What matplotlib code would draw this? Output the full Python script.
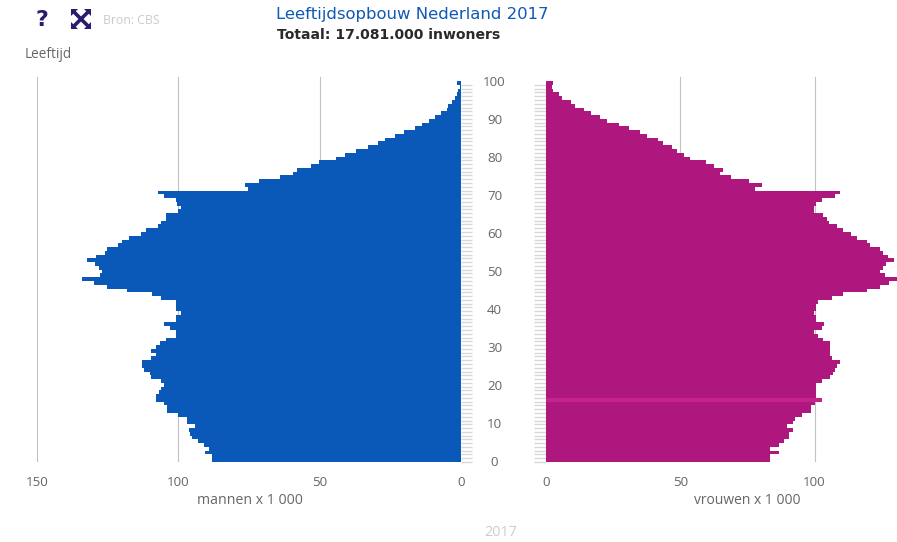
import numpy as np
import matplotlib
matplotlib.use("Agg")
import matplotlib.pyplot as plt
from matplotlib.patches import Polygon

# inwoners per leeftijd x 1 000, index = leeftijd 0..100
ages = np.arange(101)
men = [88.2, 88.2, 90.4, 89, 91, 93, 95, 96, 96.3, 94.2,
       97, 97, 100, 104, 104, 105, 108, 108, 107, 106,
       105, 106, 109.5, 110, 112, 113, 113, 109.5, 108, 109.5,
       108, 106.5, 104.4, 101, 101, 103, 105, 101, 101, 99.2,
       101, 101, 101, 106.1, 109.3, 118.3, 125.4, 129.8, 134, 127.7,
       127.1, 128, 129.5, 132.2, 129.1, 125.9, 125.4, 121.2, 120, 117.3,
       113.3, 111.4, 107.3, 106.1, 104.4, 104.4, 100, 99.2, 100.6, 100.9,
       105, 107.3, 75.2, 76.4, 71.3, 64, 59.3, 58.1, 53.2, 50.1,
       44.2, 41, 37.1, 32.9, 29.2, 26.9, 23.3, 20.2, 16.3, 13.9,
       11.2, 9.2, 7.2, 5.1, 4.5, 3.3, 2.1, 1.3, 1.2, 0.2, 1.3]
women = [83.5, 83.5, 86.9, 83.5, 86.7, 88.5, 90.6, 90.6, 92, 89.7,
         91.8, 92.8, 95.5, 98.6, 98.6, 100, 102.6, 100.5, 100.6, 100.6,
         100.6, 102.6, 105.8, 106.7, 107.6, 108.3, 109.3, 106.6, 105.8, 105.6,
         105.6, 105.6, 103.3, 101.4, 99.9, 102.7, 103.5, 100.5, 100.5, 99.9,
         100.5, 100.5, 101.4, 106.6, 110.5, 119.5, 124.3, 127.6, 131, 126.3,
         124.4, 125.6, 126.6, 129.4, 127.4, 125.6, 124.2, 120.7, 119.5, 115.7,
         113.5, 110.5, 108.3, 105.2, 104.6, 103.3, 99.9, 99.9, 100.5, 102.6,
         107.7, 109.3, 77.7, 80.4, 75.6, 68.9, 64.7, 65.9, 62.5, 59.7,
         53.8, 51.3, 48.8, 47, 43.6, 41.8, 37.7, 35, 30.9, 27.1,
         22.8, 20, 16.9, 14.1, 10.8, 9.2, 5.8, 4.8, 2.7, 2.2, 2.7]
highlight_age = 16
age_labels = [0, 10, 20, 30, 40, 50, 60, 70, 80, 90, 100]
men_ticks = [150, 100, 50, 0]
women_ticks = [0, 50, 100]

BLUE = "#0a58b8"
PINK = "#ad177e"
PINK_HI = "#c4238f"
GRID = "#c2c2c2"
TICK = "#d8d8d8"
TXT = "#666666"
FONT = "Open Sans"
ICON = "#2b1a6e"

W, H = 897, 542
fig = plt.figure(figsize=(W / 100, H / 100), dpi=100)


def px_axes(x0, x1, y_top, y_bot):
    return fig.add_axes([x0 / W, 1 - y_bot / H, (x1 - x0) / W, (y_bot - y_top) / H])


y_max = 102.1
ax_m = px_axes(37, 461, 77, 462)
ax_w = px_axes(546, 897, 77, 462)

ax_m.barh(ages, men, height=1, align="edge", color=BLUE, zorder=3)
colors = [PINK_HI if a == highlight_age else PINK for a in ages]
ax_w.barh(ages, women, height=1, align="edge", color=colors, zorder=3)

ax_m.set_xlim(150, 0)
ax_w.set_xlim(0, 130.7)

for ax, ticks in ((ax_m, men_ticks), (ax_w, women_ticks)):
    ax.set_ylim(0, y_max)
    ax.set_xticks(ticks)
    ax.set_xticklabels([str(t) for t in ticks], fontsize=9.6, color=TXT, family=FONT)
    ax.tick_params(axis="x", length=0, pad=10)
    ax.grid(axis="x", color=GRID, linewidth=0.8, zorder=0)
    ax.set_axisbelow(True)
    ax.set_yticks(ages)
    ax.set_yticklabels([])
    for s in ax.spines.values():
        s.set_visible(False)

# de grijze streepjes per leeftijd tussen de twee helften
ax_m.yaxis.tick_right()
ax_m.tick_params(axis="y", length=7.8, width=1.0, color=TICK, pad=0)
ax_w.tick_params(axis="y", length=8.6, width=1.0, color=TICK, pad=0)
for line in ax_m.get_xgridlines()[-1:]:
    line.set_visible(False)
for line in ax_w.get_xgridlines()[:1]:
    line.set_visible(False)

# leeftijdslabels in het midden
trans = matplotlib.transforms.blended_transform_factory(fig.transFigure, ax_m.transData)
for a in age_labels:
    fig.text(494.5 / W, a * 1.01 - 0.25, str(a), transform=trans, ha="center", va="center",
             fontsize=9.6, color=TXT, family=FONT)

# overlay in pixels voor losse teksten en iconen
ov = fig.add_axes([0, 0, 1, 1], zorder=5)
ov.set_xlim(0, W)
ov.set_ylim(H, 0)
ov.axis("off")
ov.patch.set_alpha(0)

ov.text(276, 15, "Leeftijdsopbouw Nederland 2017", fontsize=11.85, color="#1059b5",
        family="DejaVu Sans", va="center", ha="left")
ov.text(277, 35, "Totaal: 17.081.000 inwoners", fontsize=10.05, color="#2a2a2a",
        family="DejaVu Sans", weight="bold", va="center", ha="left")
ov.text(25, 55, "Leeftijd", fontsize=9.8, color=TXT, family=FONT, va="center", ha="left")
ov.text(103, 21, "Bron: CBS", fontsize=8.8, color="#cccccc", family=FONT, va="center", ha="left")
ov.text(42, 20, "?", fontsize=16, color=ICON, family="DejaVu Sans", weight="bold", va="center", ha="center")
ov.text(249.5, 500, "mannen x 1 000", fontsize=10.2, color=TXT, family=FONT, va="center", ha="center")
ov.text(747, 500, "vrouwen x 1 000", fontsize=10, color=TXT, family=FONT, va="center", ha="center")
ov.text(500.5, 533, "2017", fontsize=10.4, color="#cccccc", family=FONT, va="center", ha="center")

# expand-icoon
cx, cy = 81, 19
for sx, sy in ((-1, -1), (1, -1), (-1, 1), (1, 1)):
    ov.plot([cx, cx + sx * 7], [cy, cy + sy * 7], color=ICON, lw=2.6, solid_capstyle="butt")
    ov.add_patch(Polygon([(cx + sx * 10, cy + sy * 10), (cx + sx * 3, cy + sy * 10), (cx + sx * 10, cy + sy * 3)],
                         closed=True, color=ICON, lw=0))

fig.savefig("out.png", dpi=100)
